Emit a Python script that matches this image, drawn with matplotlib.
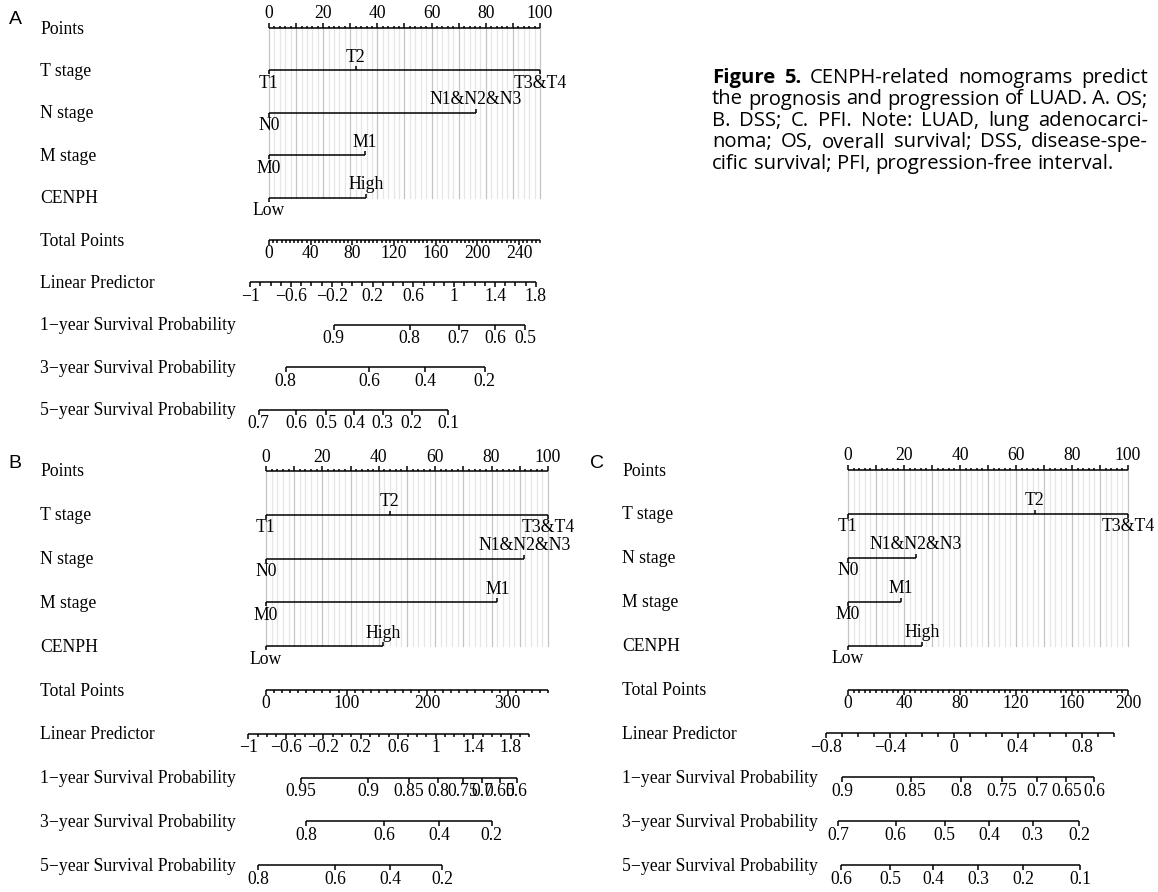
import numpy as np
import matplotlib
matplotlib.use("Agg")
from matplotlib import pyplot as plt
from matplotlib.transforms import blended_transform_factory

W, H = 1158, 892

# ---- row names and factor levels (same for all three nomograms)
row_names = ["Points", "T stage", "N stage", "M stage", "CENPH", "Total Points",
             "Linear Predictor", "1\u2212year Survival Probability",
             "3\u2212year Survival Probability", "5\u2212year Survival Probability"]
t_levels = ["T1", "T2", "T3&T4"]
n_levels = ["N0", "N1&N2&N3"]
m_levels = ["M0", "M1"]
cenph_levels = ["Low", "High"]

# ---- A: OS  (factor points on the 0-100 scale, survival ticks in total points)
a_t_pts = [0, 32.0, 100]
a_n_pts = [0, 76.2]
a_m_pts = [0, 35.3]
a_cenph_pts = [0, 35.9]
a_total_max = 260
a_total_labels = [0, 40, 80, 120, 160, 200, 240]
a_lp_range = [-1.0, 1.8]
a_lp_total = [-18, 256]
a_lp_labels = [-1, -0.6, -0.2, 0.2, 0.6, 1, 1.4, 1.8]
a_surv1 = [0.9, 0.8, 0.7, 0.6, 0.5]
a_surv1_total = [62, 135, 182, 217, 246]
a_surv3 = [0.8, 0.6, 0.4, 0.2]
a_surv3_total = [16, 96, 150, 207]
a_surv5 = [0.7, 0.6, 0.5, 0.4, 0.3, 0.2, 0.1]
a_surv5_total = [-10, 26, 55, 82, 109, 137, 172]

# ---- B: DSS
b_t_pts = [0, 43.9, 100]
b_n_pts = [0, 91.6]
b_m_pts = [0, 82.0]
b_cenph_pts = [0, 41.6]
b_total_max = 350
b_total_labels = [0, 100, 200, 300]
b_lp_range = [-1.0, 2.0]
b_lp_total = [-22, 327]
b_lp_labels = [-1, -0.6, -0.2, 0.2, 0.6, 1, 1.4, 1.8]
b_surv1 = [0.95, 0.9, 0.85, 0.8, 0.75, 0.7, 0.65, 0.6]
b_surv1_total = [43, 127, 177, 214, 244, 268, 290, 311]
b_surv3 = [0.8, 0.6, 0.4, 0.2]
b_surv3_total = [50, 147, 215, 280]
b_surv5 = [0.8, 0.6, 0.4, 0.2]
b_surv5_total = [-10, 86, 154, 219]

# ---- C: PFI
c_t_pts = [0, 66.7, 100]
c_n_pts = [0, 24.2]
c_m_pts = [0, 19.0]
c_cenph_pts = [0, 26.5]
c_total_max = 200
c_total_labels = [0, 40, 80, 120, 160, 200]
c_lp_range = [-0.8, 1.0]
c_lp_total = [-16, 190]
c_lp_labels = [-0.8, -0.4, 0, 0.4, 0.8]
c_surv1 = [0.9, 0.85, 0.8, 0.75, 0.7, 0.65, 0.6]
c_surv1_total = [-4, 45, 81, 110, 135, 156, 176]
c_surv3 = [0.7, 0.6, 0.5, 0.4, 0.3, 0.2]
c_surv3_total = [-7, 34, 69, 101, 132, 165]
c_surv5 = [0.6, 0.5, 0.4, 0.3, 0.2, 0.1]
c_surv5_total = [-5, 30, 61, 93, 125, 166]

caption = ["Figure 5. CENPH-related nomograms predict",
           "the prognosis and progression of LUAD. A. OS;",
           "B. DSS; C. PFI. Note: LUAD, lung adenocarci-",
           "noma; OS, overall survival; DSS, disease-spe-",
           "cific survival; PFI, progression-free interval."]

SERIF = "Liberation Serif"
SANS = "Liberation Sans"
CAP_FONT = "Open Sans"
FS = 12.7
LW = 1.1


def fmt(v):
    return "{:g}".format(v).replace("-", "\u2212")


def make_axes(fig, left, right, top, bottom, x0, x100):
    ax = fig.add_axes([left / W, 1 - bottom / H, (right - left) / W, (bottom - top) / H])
    ppu = (x100 - x0) / 100.0
    ax.set_xlim((left - x0) / ppu, (right - x0) / ppu)
    ax.set_ylim(bottom, top)
    ax.axis("off")
    return ax


def seg(ax, x, y, **kw):
    ax.plot(x, y, color="black", lw=LW, solid_capstyle="butt", clip_on=False, **kw)


def label(ax, x, y, s):
    ax.text(x, y, s, ha="center", va="center", fontsize=FS, family=SERIF, clip_on=False)


def draw_nomogram(ax, ys, t_pts, n_pts, m_pts, c_pts, total_max, total_labels, total_minor,
                  lp_range, lp_total, lp_labels, surv):
    tr = blended_transform_factory(ax.transAxes, ax.transData)
    for name, y in zip(row_names, ys):
        ax.text(0, y + 1, name, transform=tr, ha="left", va="center", fontsize=FS, family=SERIF)

    # grid lines of the points scale
    for p in range(0, 101, 2):
        col = "#c4c4c4" if p % 10 == 0 else "#e6e6e6"
        ax.plot([p, p], [ys[0], ys[4]], color=col, lw=0.9, zorder=0)

    # points axis (ticks up, labels on top)
    y = ys[0]
    seg(ax, [0, 100], [y, y])
    for p in range(0, 101, 2):
        seg(ax, [p, p], [y, y - (5 if p % 10 == 0 else 2.5)])
    for p in range(0, 101, 20):
        label(ax, p, y - 14, str(p))

    # factor axes
    for pts, levels, y in zip([t_pts, n_pts, m_pts, c_pts],
                              [t_levels, n_levels, m_levels, cenph_levels], ys[1:5]):
        seg(ax, [min(pts), max(pts)], [y, y])
        for j, (p, name) in enumerate(zip(pts, levels)):
            s = 1 if j % 2 == 0 else -1
            seg(ax, [p, p], [y, y + 4 * s])
            label(ax, p, y + 13 * s, name)

    k = 100.0 / total_max
    # total points
    y = ys[5]
    seg(ax, [0, 100], [y, y])
    for v in np.arange(0, total_max + 0.01, total_minor):
        big = any(abs(v - t) < 1e-6 for t in total_labels)
        seg(ax, [v * k, v * k], [y, y + (5 if big else 3)])
    for v in total_labels:
        label(ax, v * k, y + 14, fmt(v))

    # linear predictor
    y = ys[6]
    x_lo, x_hi = lp_total[0] * k, lp_total[1] * k

    def lpx(v):
        return x_lo + (v - lp_range[0]) / (lp_range[1] - lp_range[0]) * (x_hi - x_lo)

    seg(ax, [x_lo, x_hi], [y, y])
    for v in np.arange(lp_range[0], lp_range[1] + 0.001, 0.1):
        big = any(abs(v - t) < 1e-6 for t in lp_labels)
        seg(ax, [lpx(v), lpx(v)], [y, y + (5 if big else 3.5)])
    for v in lp_labels:
        label(ax, lpx(v), y + 14, fmt(v))

    # survival probabilities
    for (vals, tots), y in zip(surv, ys[7:10]):
        xs = np.array(tots) * k
        seg(ax, [xs.min(), xs.max()], [y, y])
        for v, x in zip(vals, xs):
            seg(ax, [x, x], [y, y + 5])
            label(ax, x, y + 14, fmt(v))


fig = plt.figure(figsize=(W / 100, H / 100), dpi=100)

ax_a = make_axes(fig, 40, 580, 0, 440, 269, 540)
draw_nomogram(ax_a, [28 + 42.4 * i for i in range(10)],
              a_t_pts, a_n_pts, a_m_pts, a_cenph_pts, a_total_max, a_total_labels, 4,
              a_lp_range, a_lp_total, a_lp_labels,
              [(a_surv1, a_surv1_total), (a_surv3, a_surv3_total), (a_surv5, a_surv5_total)])

ax_b = make_axes(fig, 40, 600, 440, 892, 266, 548)
draw_nomogram(ax_b, [471 + 43.8 * i for i in range(10)],
              b_t_pts, b_n_pts, b_m_pts, b_cenph_pts, b_total_max, b_total_labels, 10,
              b_lp_range, b_lp_total, b_lp_labels,
              [(b_surv1, b_surv1_total), (b_surv3, b_surv3_total), (b_surv5, b_surv5_total)])

ax_c = make_axes(fig, 622, 1158, 440, 892, 848, 1128)
draw_nomogram(ax_c, [470 + 43.9 * i for i in range(10)],
              c_t_pts, c_n_pts, c_m_pts, c_cenph_pts, c_total_max, c_total_labels, 4,
              c_lp_range, c_lp_total, c_lp_labels,
              [(c_surv1, c_surv1_total), (c_surv3, c_surv3_total), (c_surv5, c_surv5_total)])

# panel letters
for s, x, y in [("A", 15, 20), ("B", 15, 464), ("C", 597, 464)]:
    fig.text(x / W, 1 - y / H, s, fontsize=14, family=SANS, ha="center", va="center")

# caption, justified like the journal text block; the font size is chosen so
# the widest line fits the block with ordinary word spaces
renderer = fig.canvas.get_renderer()
cap_left, cap_right = 712, 1148
probe = fig.text(0, 0, caption[1], fontsize=10, family=CAP_FONT)
cap_fs = 10 * (cap_right - cap_left) / probe.get_window_extent(renderer).width
probe.remove()
sp = fig.text(0, 0, "a a", fontsize=cap_fs, family=CAP_FONT)
sa = fig.text(0, 0, "aa", fontsize=cap_fs, family=CAP_FONT)
space = sp.get_window_extent(renderer).width - sa.get_window_extent(renderer).width
sp.remove()
sa.remove()
for i, line in enumerate(caption):
    words = line.split(" ")
    texts = []
    for j, w in enumerate(words):
        bold = i == 0 and j < 2
        texts.append(fig.text(0, 0, w, fontsize=cap_fs, family=CAP_FONT, va="center",
                              ha="left", fontweight="bold" if bold else "normal"))
    widths = [t.get_window_extent(renderer).width for t in texts]
    if i < len(caption) - 1:
        gap = (cap_right - cap_left - sum(widths)) / (len(words) - 1)
    else:
        gap = space
    x = cap_left
    yc = 78 + 21.5 * i
    for t, w in zip(texts, widths):
        t.set_position((x / W, 1 - yc / H))
        x += w + gap

fig.savefig("out.png", dpi=100)
